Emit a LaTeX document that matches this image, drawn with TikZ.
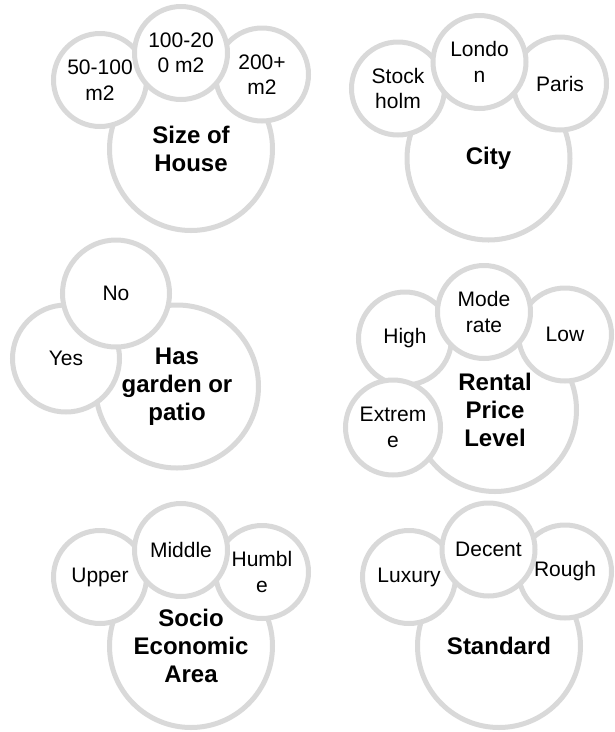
\documentclass[tikz,border=0pt]{standalone}
\usepackage{fontspec}
\setmainfont{Liberation Sans}
\definecolor{ringgray}{HTML}{D9D9D9}
\tikzset{
  bubble/.style={circle, draw=ringgray, line width=5pt, fill=white,
    inner sep=0pt, align=center, text=black},
  option/.style={bubble, minimum size=93pt, font=\fontsize{21}{25.5}\selectfont},
  optionwide/.style={bubble, minimum size=107pt, font=\fontsize{21}{25.5}\selectfont},
  topic/.style={bubble, minimum size=163pt, font=\fontsize{24}{28}\selectfont\bfseries},
}
\begin{document}
\begin{tikzpicture}[x=1pt,y=-1pt]
\useasboundingbox (0,0) rectangle (615,732);

% Size of House
\node[topic]  (house)  at (191,149)   {Size of\\House};
\node[option] (h50)    at (100,80)    {50-100\\m2};
\node[option] (h200)   at (262,74.5)  {200+\\m2};
\node[option] (h100)   at (181,53)    {100-20\\0 m2};

% City
\node[topic]  (city)   at (488.5,158.5) {City};
\node[option] (sthlm)  at (398,88.5)    {Stock\\holm};
\node[option] (paris)  at (560,83.5)    {Paris};
\node[option] (london) at (479.5,62)    {Londo\\n};

% Has garden or patio
\node[topic]      (garden) at (177,386.5) {Has\\garden or\\patio};
\node[optionwide] (yes)    at (66,358.5)  {Yes};
\node[optionwide] (no)     at (116,293.5) {No};

% Rental Price Level
\node[topic]  (rent)     at (495,410)   {Rental\\Price\\Level};
\node[option] (high)     at (405,338.5) {High};
\node[option] (low)      at (565,334.5) {Low};
\node[option] (moderate) at (484,312)   {Mode\\rate};
\node[option, minimum size=95pt] (extreme) at (393,427.5) {Extrem\\e};

% Socio Economic Area
\node[topic]  (socio)  at (191,646) {Socio\\Economic\\Area};
\node[option] (upper)  at (100,577) {Upper};
\node[option] (humble) at (262,572) {Humbl\\e};
\node[option] (middle) at (181,550) {Middle};

% Standard
\node[topic]  (standard) at (499,646)     {Standard};
\node[option] (luxury)   at (409,577)     {Luxury};
\node[option] (rough)    at (565,571.5)   {Rough};
\node[option] (decent)   at (488.5,549.5) {Decent};
\end{tikzpicture}
\end{document}
